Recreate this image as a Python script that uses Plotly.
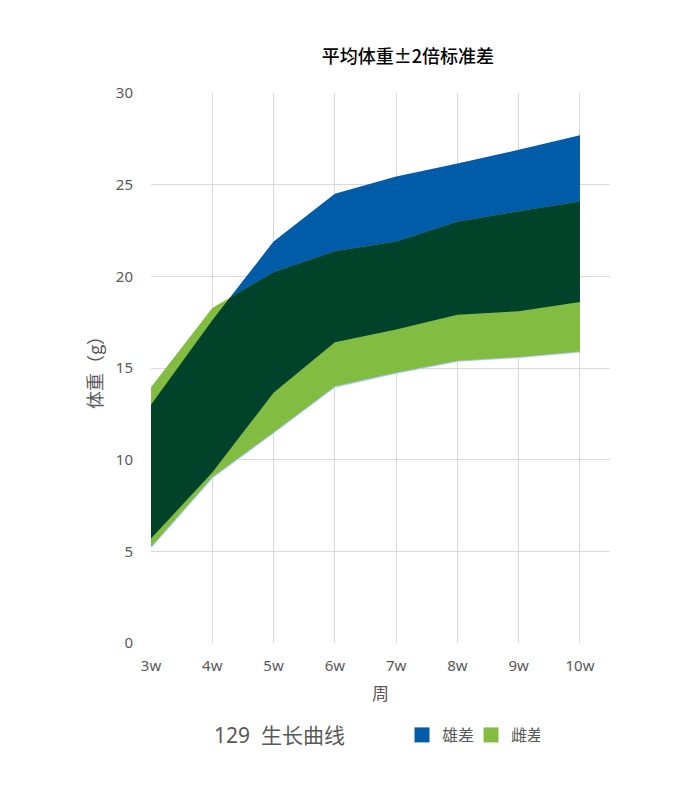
import numpy as np
import plotly.graph_objects as go

weeks = ["3w", "4w", "5w", "6w", "7w", "8w", "9w", "10w"]
male_upper = [13.0, 17.6, 21.9, 24.5, 25.45, 26.15, 26.9, 27.7]
male_lower = [5.7, 9.3, 13.65, 16.4, 17.1, 17.9, 18.1, 18.6]
female_upper = [13.95, 18.27, 20.22, 21.37, 21.9, 22.98, 23.55, 24.08]
female_lower = [5.25, 9.05, 11.5, 14.0, 14.75, 15.4, 15.6, 15.9]

BLUE = "#005BA9"
GREEN = "#82BC41"
DARK = "#01432A"
GRID = "#D9D9D9"
GRAY = "#595959"
CJK = "Noto Sans CJK SC"

x = np.arange(len(weeks), dtype=float)


def band(lo, hi):
    xs = list(x) + list(x[::-1])
    ys = list(hi) + list(np.asarray(lo)[::-1])
    return xs, ys


def env(a, b, fn):
    """piecewise-linear min/max of two series, inserting crossing points"""
    a = np.asarray(a, float)
    b = np.asarray(b, float)
    xs, ys = [], []
    for i in range(len(x)):
        xs.append(x[i])
        ys.append(fn(a[i], b[i]))
        if i < len(x) - 1:
            d0 = a[i] - b[i]
            d1 = a[i + 1] - b[i + 1]
            if d0 * d1 < 0:
                t = d0 / (d0 - d1)
                xs.append(x[i] + t)
                ys.append(a[i] + t * (a[i + 1] - a[i]))
    return np.array(xs), np.array(ys)


ux, uy = env(male_upper, female_upper, min)
lx, ly = env(male_lower, female_lower, max)

fig = go.Figure()

mx, my = band(male_lower, male_upper)
fig.add_trace(go.Scatter(x=mx, y=my, fill="toself", fillcolor=BLUE, mode="none",
                         showlegend=False, hoverinfo="skip"))
fig.add_trace(go.Scatter(x=x, y=female_lower, mode="lines",
                         line=dict(color="#A9C8EE", width=2.2),
                         showlegend=False, hoverinfo="skip"))
fx, fy = band(female_lower, female_upper)
fig.add_trace(go.Scatter(x=fx, y=fy, fill="toself", fillcolor=GREEN, mode="none",
                         showlegend=False, hoverinfo="skip"))
ox = list(ux) + list(lx[::-1])
oy = list(uy) + list(ly[::-1])
fig.add_trace(go.Scatter(x=ox, y=oy, fill="toself", fillcolor=DARK, mode="none",
                         showlegend=False, hoverinfo="skip"))

# legend entries
fig.add_trace(go.Scatter(x=[None], y=[None], mode="markers", name="雄差",
                         marker=dict(symbol="square", size=15, color=BLUE)))
fig.add_trace(go.Scatter(x=[None], y=[None], mode="markers", name="雌差",
                         marker=dict(symbol="square", size=15, color=GREEN)))

fig.update_layout(
    width=700, height=800,
    margin=dict(l=151, r=90, t=93, b=157),
    paper_bgcolor="white", plot_bgcolor="white",
    font=dict(family="Noto Sans, " + CJK, color=GRAY, size=15),
    title=dict(text="平均体重±2倍标准差", x=408 / 700, xanchor="center",
               y=1 - 57 / 800, yanchor="middle", yref="container",
               font=dict(family=CJK, size=18, color="#000000", weight=500)),
    xaxis=dict(range=[0, 7.49], tickvals=list(x), ticktext=weeks,
               showgrid=True, gridcolor=GRID, gridwidth=1, zeroline=False,
               showline=False, ticks="", ticklabelstandoff=12,
               tickfont=dict(size=15, color=GRAY),
               title=dict(text="周", font=dict(family=CJK, size=17, color=GRAY), standoff=14)),
    yaxis=dict(range=[0, 30], tickvals=[0, 5, 10, 15, 20, 25, 30],
               showgrid=True, gridcolor=GRID, gridwidth=1, zeroline=False,
               showline=False, ticks="", ticklabelstandoff=17,
               tickfont=dict(size=15, color=GRAY),
               title=dict(text="体重（g）", font=dict(family=CJK, size=18, color=GRAY), standoff=8)),
    legend=dict(orientation="h", x=(402 - 151) / 459, xanchor="left",
                y=(643 - 735) / 550, yanchor="middle", itemwidth=30,
                entrywidth=24, entrywidthmode="pixels",
                font=dict(family=CJK, size=16, color=GRAY), bgcolor="rgba(0,0,0,0)"),
    annotations=[dict(text="129  生长曲线", xref="paper", yref="paper",
                      x=(279 - 151) / 459, y=(643 - 735) / 550, xanchor="center",
                      yanchor="middle", showarrow=False,
                      font=dict(family="Noto Sans, " + CJK, size=21, color=GRAY))],
)

fig.write_html("out.html")
